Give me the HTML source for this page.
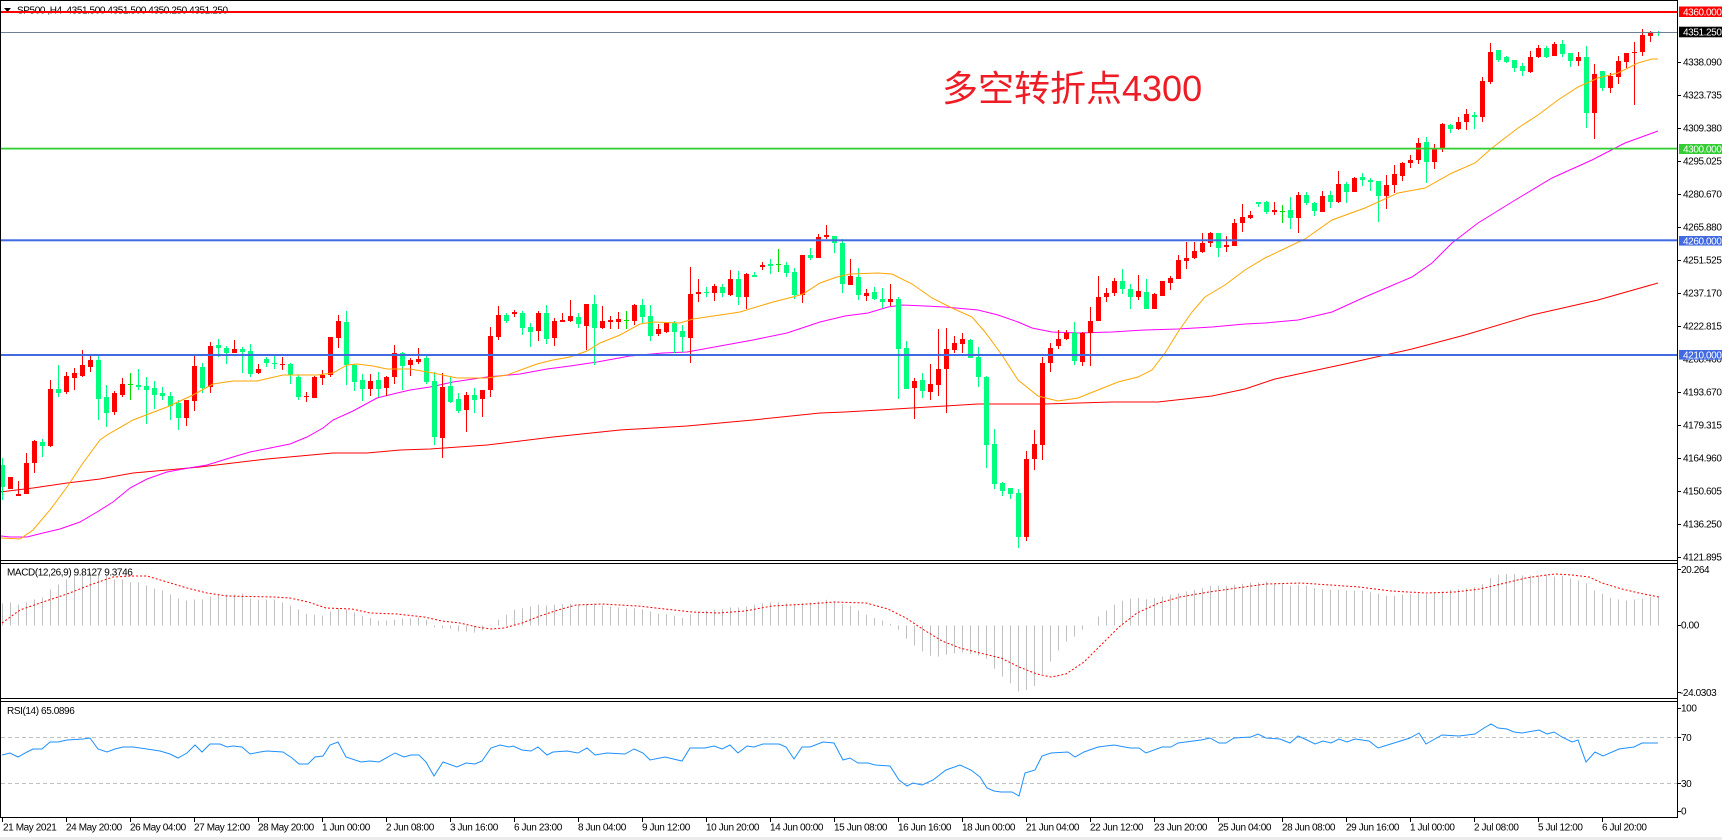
<!DOCTYPE html>
<html><head><meta charset="utf-8">
<style>
html,body{margin:0;padding:0;background:#fff;overflow:hidden;}
svg{display:block;}
text{font-family:"Liberation Sans",sans-serif;font-size:10px;letter-spacing:-0.4px;fill:#000;}
.w{fill:#fff;}
</style></head><body>
<svg width="1722" height="840" viewBox="0 0 1722 840" xmlns="http://www.w3.org/2000/svg">
<rect x="0" y="0" width="1722" height="840" fill="#fff"/>
<rect x="0" y="837" width="1722" height="3" fill="#ececec"/>

<!-- MA lines -->
<polyline fill="none" stroke="#FF0000" stroke-width="1" points="0,492 33,488 67,483 100,479 133,473 167,470 200,467 233,463 267,459 300,456 333,453 367,453 400,450 430,449 487,445 553,437 620,430 687,426 753,420 820,413 845,412 912,408 978,404 1045,404 1112,402 1158,402 1185,399 1212,396 1245,389 1275,379 1345,364 1412,349 1465,335 1532,315 1598,300 1658,283"/>
<polyline fill="none" stroke="#FF00FF" stroke-width="1" points="1,536 10,537 27,537 43,533 60,529 80,522 97,512 113,502 130,488 147,479 167,472 183,469 207,465 233,457 250,452 290,444 307,437 323,428 333,420 353,411 377,398 393,394 410,390 430,387 453,382 487,377 520,374 547,369 570,366 597,362 630,356 663,353 687,352 720,346 753,340 787,333 820,322 845,316 868,313 888,307 902,305 925,306 945,307 978,310 998,315 1018,322 1032,328 1052,332 1078,333 1112,332 1145,330 1178,329 1212,327 1245,324 1265,323 1298,320 1332,312 1365,297 1412,277 1432,263 1452,243 1478,223 1512,202 1552,178 1592,160 1625,143 1658,131"/>

<g id="candles">
<path id="gw" stroke="#00FF7F" stroke-width="1" fill="none"/>
<path id="gb" fill="#00FF7F"/>
<path id="rw" stroke="#FF0000" stroke-width="1" fill="none"/>
<path id="rb" fill="#FF0000"/>
<path id="dw" stroke="#00E000" stroke-width="1" fill="none"/>
<path id="db" fill="#00E000"/>
</g>

<polyline fill="none" stroke="#FFA500" stroke-width="1" points="1,538 20,539 33,530 50,510 67,487 83,463 100,440 107,435 133,420 167,407 193,395 213,384 233,381 257,381 283,375 317,375 333,373 347,365 357,364 373,366 387,369 410,369 433,373 457,378 487,378 507,375 537,364 553,360 570,357 587,351 600,343 620,335 640,324 653,322 680,323 693,319 720,315 740,312 753,308 773,302 793,297 803,294 820,283 837,277 850,274 878,273 892,274 912,284 932,298 952,308 972,317 985,332 1002,355 1018,380 1038,396 1058,401 1078,398 1098,390 1118,382 1138,377 1152,370 1165,353 1178,332 1192,312 1205,297 1225,285 1245,270 1265,258 1305,239 1332,220 1365,208 1398,193 1425,188 1452,173 1475,163 1492,148 1518,128 1538,115 1558,100 1578,87 1598,78 1618,73 1638,63 1652,59 1658,59"/>

<!-- header -->
<polygon points="4,8 11,8 7.5,12" fill="#000"/>
<text x="17" y="13.5">SP500 ,H4&#160; 4351.500 4351.500 4350.250 4351.250</text>

<!-- horizontal objects -->
<rect x="1" y="11" width="1676" height="2" fill="#FF0000"/>
<rect x="1" y="32" width="1676" height="1" fill="#708090"/>
<rect x="1" y="147.7" width="1676" height="1.8" fill="#32CD32"/>
<rect x="1" y="239.3" width="1676" height="2" fill="#4169E1"/>
<rect x="1" y="354" width="1676" height="2" fill="#4169E1"/>

<text x="942" y="101" style="font-family:'Liberation Sans','Noto Sans CJK SC',sans-serif;font-size:36px;letter-spacing:0;fill:#EE1C25;">多空转折点4300</text>

<!-- MACD -->
<path id="mh" stroke="#C0C0C0" stroke-width="1" fill="none"/>
<polyline fill="none" stroke="#FF0000" stroke-width="1" stroke-dasharray="2 2" points="2,623 20,610 40,603 67,594 90,585 113,577 130,576 147,576 167,582 187,588 207,593 227,596 273,597 290,598 308,602 326,608 352,609 370,613 397,614 424,617 442,621 460,623 477,627 491,629 504,628 522,623 540,616 558,610 576,605 602,604 638,606 665,609 692,612 719,613 745,611 772,606 808,604 835,602 866,603 888,609 906,618 924,630 942,641 960,648 980,653 1001,658 1019,667 1037,674 1051,677 1066,674 1084,662 1101,645 1119,627 1137,613 1159,603 1180,597 1209,592 1237,588 1266,584 1301,583 1330,585 1359,587 1391,591 1426,593 1455,592 1480,589 1501,584 1526,578 1539,576 1555,574 1572,575 1589,577 1602,583 1622,589 1639,593 1659,597"/>
<text x="7" y="575.5">MACD(12,26,9) 9.8127 9.3746</text>

<!-- RSI -->
<line x1="1" y1="737.5" x2="1677" y2="737.5" stroke="#C0C0C0" stroke-width="1" stroke-dasharray="4 3"/>
<line x1="1" y1="783.5" x2="1677" y2="783.5" stroke="#C0C0C0" stroke-width="1" stroke-dasharray="4 3"/>
<polyline fill="none" stroke="#1E90FF" stroke-width="1" points="2,755 10,753 18,757 27,752 33,749 42,749 50,742 58,742 67,740 83,739 90,738 98,749 107,752 115,749 123,747 133,747 147,749 160,751 170,754 178,758 187,753 195,745 202,752 210,744 220,744 227,747 233,746 242,747 250,754 260,752 267,751 283,752 292,758 299,764 308,764 315,757 323,756 330,745 338,742 346,757 361,762 370,761 379,762 395,753 404,757 411,755 419,755 426,762 434,776 443,762 457,767 466,763 475,764 482,761 491,748 500,745 509,747 513,746 522,750 531,751 538,747 547,755 553,752 567,751 578,753 587,748 595,755 607,753 625,754 634,749 643,753 650,760 665,757 682,761 690,748 705,748 714,746 722,749 730,745 738,753 747,746 754,747 763,744 779,744 786,747 794,759 802,747 810,747 823,742 834,743 843,760 850,758 858,763 868,763 875,765 890,766 899,780 907,786 913,783 922,785 933,780 946,770 960,765 971,770 980,777 987,788 994,791 1001,792 1012,792 1019,796 1025,773 1035,770 1042,756 1051,753 1068,752 1075,757 1084,752 1098,747 1114,745 1130,748 1139,748 1146,753 1162,747 1171,747 1178,743 1201,740 1210,738 1219,743 1226,743 1234,738 1251,737 1258,734 1266,738 1280,739 1290,743 1298,736 1307,740 1315,744 1323,741 1331,743 1339,739 1347,742 1355,739 1369,741 1378,748 1394,743 1410,738 1419,733 1426,744 1442,735 1459,736 1475,734 1484,728 1491,724 1498,728 1507,729 1514,732 1522,733 1539,730 1547,734 1554,732 1562,737 1572,742 1578,740 1586,762 1595,752 1603,756 1619,749 1634,747 1642,743 1658,743"/>
<text x="7" y="714">RSI(14) 65.0896</text>

<!-- panel borders -->
<g stroke="#000" stroke-width="1" fill="none">
<line x1="0" y1="0.5" x2="1678" y2="0.5"/>
<line x1="0.5" y1="0" x2="0.5" y2="818"/>
<line x1="1677.5" y1="0" x2="1677.5" y2="818"/>
<line x1="0" y1="560.5" x2="1678" y2="560.5"/>
<line x1="0" y1="563.5" x2="1678" y2="563.5"/>
<line x1="0" y1="698.5" x2="1678" y2="698.5"/>
<line x1="0" y1="701.5" x2="1678" y2="701.5"/>
<line x1="0" y1="817.5" x2="1678" y2="817.5"/>
</g>

<!-- price axis ticks -->
<g stroke="#000" stroke-width="1">
<line x1="1677" y1="62.5" x2="1681" y2="62.5"/><line x1="1677" y1="95.5" x2="1681" y2="95.5"/>
<line x1="1677" y1="128.5" x2="1681" y2="128.5"/><line x1="1677" y1="161.5" x2="1681" y2="161.5"/>
<line x1="1677" y1="194.5" x2="1681" y2="194.5"/><line x1="1677" y1="227.5" x2="1681" y2="227.5"/>
<line x1="1677" y1="260.5" x2="1681" y2="260.5"/><line x1="1677" y1="293.5" x2="1681" y2="293.5"/>
<line x1="1677" y1="326.5" x2="1681" y2="326.5"/><line x1="1677" y1="392.5" x2="1681" y2="392.5"/>
<line x1="1677" y1="425.5" x2="1681" y2="425.5"/><line x1="1677" y1="458.5" x2="1681" y2="458.5"/>
<line x1="1677" y1="491.5" x2="1681" y2="491.5"/><line x1="1677" y1="524.5" x2="1681" y2="524.5"/>
<line x1="1677" y1="557.5" x2="1681" y2="557.5"/>
<line x1="1677" y1="569.5" x2="1681" y2="569.5"/><line x1="1677" y1="625.5" x2="1681" y2="625.5"/>
<line x1="1677" y1="692.5" x2="1681" y2="692.5"/>
<line x1="1677" y1="708.5" x2="1681" y2="708.5"/><line x1="1677" y1="737.5" x2="1681" y2="737.5"/>
<line x1="1677" y1="783.5" x2="1681" y2="783.5"/><line x1="1677" y1="811.5" x2="1681" y2="811.5"/>
</g>

<!-- price labels -->
<text x="1683" y="65.5">4338.090</text>
<text x="1683" y="98.5">4323.735</text>
<text x="1683" y="131.5">4309.380</text>
<text x="1683" y="164.5">4295.025</text>
<text x="1683" y="197.5">4280.670</text>
<text x="1683" y="230.5">4265.880</text>
<text x="1683" y="263.5">4251.525</text>
<text x="1683" y="296.5">4237.170</text>
<text x="1683" y="329.5">4222.815</text>
<text x="1683" y="362.5">4208.460</text>
<text x="1683" y="395.5">4193.670</text>
<text x="1683" y="428.5">4179.315</text>
<text x="1683" y="461.5">4164.960</text>
<text x="1683" y="494.5">4150.605</text>
<text x="1683" y="527.5">4136.250</text>
<text x="1683" y="560.5">4121.895</text>

<rect x="1679" y="6.5" width="43" height="10.5" fill="#FF0000"/>
<text class="w" x="1683" y="15.3">4360.000</text>
<rect x="1679" y="26.7" width="43" height="10.6" fill="#000"/>
<text class="w" x="1683" y="35.5">4351.250</text>
<rect x="1679" y="144" width="43" height="10" fill="#32CD32"/>
<text class="w" x="1683" y="152.6">4300.000</text>
<rect x="1679" y="236" width="43" height="9.6" fill="#4169E1"/>
<text class="w" x="1683" y="244.4">4260.000</text>
<rect x="1679" y="350" width="43" height="9.6" fill="#4169E1"/>
<text class="w" x="1683" y="358.4">4210.000</text>

<text x="1681" y="572.8">20.264</text>
<text x="1681" y="628.5">0.00</text>
<text x="1680" y="696.2">-24.0303</text>
<text x="1681" y="711.5">100</text>
<text x="1681" y="741.2">70</text>
<text x="1681" y="786.8">30</text>
<text x="1681" y="814.5">0</text>

<!-- time axis -->
<g id="tt" stroke="#000" stroke-width="1">
<line x1="2.5" y1="818" x2="2.5" y2="822"/><line x1="66.5" y1="818" x2="66.5" y2="822"/><line x1="130.5" y1="818" x2="130.5" y2="822"/><line x1="194.5" y1="818" x2="194.5" y2="822"/><line x1="258.5" y1="818" x2="258.5" y2="822"/><line x1="322.5" y1="818" x2="322.5" y2="822"/><line x1="386.5" y1="818" x2="386.5" y2="822"/><line x1="450.5" y1="818" x2="450.5" y2="822"/><line x1="514.5" y1="818" x2="514.5" y2="822"/><line x1="578.5" y1="818" x2="578.5" y2="822"/><line x1="642.5" y1="818" x2="642.5" y2="822"/><line x1="706.5" y1="818" x2="706.5" y2="822"/><line x1="770.5" y1="818" x2="770.5" y2="822"/><line x1="834.5" y1="818" x2="834.5" y2="822"/><line x1="898.5" y1="818" x2="898.5" y2="822"/><line x1="962.5" y1="818" x2="962.5" y2="822"/><line x1="1026.5" y1="818" x2="1026.5" y2="822"/><line x1="1090.5" y1="818" x2="1090.5" y2="822"/><line x1="1154.5" y1="818" x2="1154.5" y2="822"/><line x1="1218.5" y1="818" x2="1218.5" y2="822"/><line x1="1282.5" y1="818" x2="1282.5" y2="822"/><line x1="1346.5" y1="818" x2="1346.5" y2="822"/><line x1="1410.5" y1="818" x2="1410.5" y2="822"/><line x1="1474.5" y1="818" x2="1474.5" y2="822"/><line x1="1538.5" y1="818" x2="1538.5" y2="822"/><line x1="1602.5" y1="818" x2="1602.5" y2="822"/>
</g>
<text x="3" y="830.6">21 May 2021</text>
<text x="66" y="830.6">24 May 20:00</text>
<text x="130" y="830.6">26 May 04:00</text>
<text x="194" y="830.6">27 May 12:00</text>
<text x="258" y="830.6">28 May 20:00</text>
<text x="322" y="830.6">1 Jun 00:00</text>
<text x="386" y="830.6">2 Jun 08:00</text>
<text x="450" y="830.6">3 Jun 16:00</text>
<text x="514" y="830.6">6 Jun 23:00</text>
<text x="578" y="830.6">8 Jun 04:00</text>
<text x="642" y="830.6">9 Jun 12:00</text>
<text x="706" y="830.6">10 Jun 20:00</text>
<text x="770" y="830.6">14 Jun 00:00</text>
<text x="834" y="830.6">15 Jun 08:00</text>
<text x="898" y="830.6">16 Jun 16:00</text>
<text x="962" y="830.6">18 Jun 00:00</text>
<text x="1026" y="830.6">21 Jun 04:00</text>
<text x="1090" y="830.6">22 Jun 12:00</text>
<text x="1154" y="830.6">23 Jun 20:00</text>
<text x="1218" y="830.6">25 Jun 04:00</text>
<text x="1282" y="830.6">28 Jun 08:00</text>
<text x="1346" y="830.6">29 Jun 16:00</text>
<text x="1410" y="830.6">1 Jul 00:00</text>
<text x="1474" y="830.6">2 Jul 08:00</text>
<text x="1538" y="830.6">5 Jul 12:00</text>
<text x="1602" y="830.6">6 Jul 20:00</text>
</svg>
<script>
(function(){
var C=[
[465,487,458,500,'g'],[477,489,477,489,'r'],[494,496,481,496,'r'],[463,494,453,494,'r'],[441,463,440,473,'r'],
[442,446,439,457,'g'],[389,446,380,447,'r'],[389,393,365,397,'g'],[376,392,372,394,'r'],[373,378,368,390,'r'],
[365,376,350,377,'r'],[360,367,356,372,'r'],[360,399,356,420,'g'],[397,413,385,427,'g'],[393,412,391,415,'r'],
[384,395,378,397,'r'],[384,385,373,400,'d'],[385,387,369,390,'g'],[386,390,377,424,'g'],[388,395,381,409,'g'],
[393,396,387,400,'g'],[396,406,392,420,'g'],[403,418,400,430,'g'],[400,418,400,426,'r'],[366,401,356,411,'r'],
[367,388,363,393,'g'],[346,387,342,393,'r'],[345,348,339,357,'g'],[348,353,346,364,'g'],[349,353,340,353,'r'],
[349,352,347,373,'g'],[351,374,344,377,'g'],[369,373,364,374,'r'],[359,363,357,367,'g'],[363,364,356,369,'g'],
[364,365,357,370,'r'],[364,375,363,384,'g'],[377,397,375,400,'g'],[396,397,392,402,'r'],[377,398,376,398,'r'],
[375,378,370,385,'r'],[337,375,337,377,'r'],[321,338,315,348,'r'],[322,365,311,385,'g'],[365,382,364,391,'g'],
[380,389,374,401,'g'],[381,389,374,396,'r'],[380,389,372,397,'g'],[377,388,376,396,'r'],[353,377,345,384,'r'],
[353,366,352,390,'g'],[360,365,358,376,'r'],[359,362,348,364,'r'],[358,382,355,384,'g'],[381,437,372,445,'g'],
[387,438,373,458,'r'],[386,402,377,403,'g'],[399,411,393,413,'g'],[395,410,392,432,'r'],[395,400,388,413,'g'],
[390,399,390,417,'r'],[336,390,327,397,'r'],[315,337,306,340,'r'],[315,321,313,323,'g'],[312,314,310,317,'r'],
[313,328,311,335,'g'],[327,332,323,347,'g'],[313,331,311,341,'r'],[313,339,305,344,'g'],[321,338,318,346,'r'],
[320,322,313,322,'r'],[316,321,300,322,'r'],[317,324,313,328,'g'],[304,326,304,350,'r'],[304,328,295,365,'g'],
[321,328,306,329,'r'],[320,322,316,329,'r'],[319,322,312,329,'r'],[320,321,311,329,'d'],[305,321,304,325,'r'],
[305,317,299,323,'g'],[316,336,305,341,'g'],[329,334,324,336,'r'],[323,332,322,333,'r'],[323,332,321,353,'g'],
[331,337,325,352,'g'],[294,338,267,363,'r'],[292,294,279,302,'r'],[292,293,287,297,'g'],[286,293,284,301,'r'],
[287,293,284,297,'g'],[279,295,270,296,'r'],[279,297,271,305,'g'],[274,297,273,309,'r'],[275,277,272,277,'g'],
[265,267,262,270,'r'],[264,266,259,274,'g'],[264,265,249,272,'d'],[265,273,262,277,'g'],[272,295,268,299,'g'],
[255,295,255,303,'r'],[255,258,248,260,'g'],[237,258,234,258,'r'],[235,237,225,239,'r'],[236,243,236,253,'g'],
[243,284,239,293,'g'],[276,285,259,285,'r'],[277,295,268,300,'g'],[293,296,289,301,'r'],[292,299,287,300,'g'],
[299,302,288,308,'g'],[299,302,284,306,'r'],[299,349,297,399,'g'],[348,389,341,389,'g'],[381,388,378,419,'r'],
[380,391,373,398,'g'],[384,392,364,400,'r'],[369,385,329,396,'r'],[349,369,328,413,'r'],[343,350,336,353,'r'],
[339,344,333,353,'r'],[340,358,339,358,'g'],[357,377,347,387,'g'],[377,445,376,468,'g'],[444,484,429,489,'g'],
[483,491,482,496,'g'],[488,494,488,499,'g'],[493,537,489,548,'g'],[459,537,451,541,'r'],[444,459,430,470,'r'],
[363,445,357,460,'r'],[348,363,343,372,'r'],[339,346,330,349,'r'],[333,339,330,340,'r'],[333,361,322,365,'g'],
[333,362,332,366,'r'],[321,333,307,366,'r'],[297,321,276,321,'r'],[293,297,288,302,'r'],[281,293,278,296,'r'],
[281,289,269,294,'g'],[289,297,284,309,'g'],[291,297,275,300,'r'],[292,309,279,309,'g'],[294,309,293,309,'r'],
[281,296,281,296,'r'],[278,283,276,290,'r'],[260,279,255,279,'r'],[258,261,242,269,'r'],[251,258,242,259,'r'],
[243,252,233,253,'r'],[233,243,232,247,'r'],[233,248,233,257,'g'],[245,247,236,252,'r'],[223,246,219,246,'r'],
[217,223,204,232,'r'],[215,218,211,219,'r'],[202,204,202,207,'g'],[202,212,201,214,'g'],[210,212,202,215,'r'],
[211,211,205,223,'d'],[210,218,197,229,'g'],[195,218,192,233,'r'],[195,203,192,205,'g'],[203,211,202,216,'g'],
[196,212,191,212,'r'],[195,202,191,208,'g'],[184,202,171,203,'r'],[184,192,182,203,'g'],[178,192,177,192,'r'],
[177,180,173,186,'g'],[180,182,178,191,'g'],[181,196,181,222,'g'],[185,196,175,209,'r'],[174,185,165,193,'r'],
[163,176,162,181,'r'],[160,163,155,168,'r'],[143,160,138,164,'r'],[142,162,137,183,'g'],[149,162,144,169,'r'],
[124,148,123,152,'r'],[125,129,124,133,'g'],[122,129,117,130,'r'],[114,122,109,130,'r'],[115,117,112,129,'g'],
[81,117,77,122,'r'],[52,82,43,84,'r'],[50,60,50,62,'g'],[57,62,56,63,'g'],[60,68,60,72,'g'],
[66,71,63,76,'g'],[57,72,51,73,'r'],[48,57,45,58,'r'],[48,57,46,58,'g'],[44,56,42,56,'r'],
[44,54,40,57,'g'],[53,61,53,67,'g'],[57,61,52,66,'r'],[57,113,46,128,'g'],[74,113,64,139,'r'],
[71,88,71,91,'g'],[76,88,73,93,'r'],[61,77,56,84,'r'],[53,62,53,68,'r'],[52,53,42,105,'r'],
[35,52,29,56,'r'],[32,36,31,42,'r'],[32,33,31,36,'g']
];
var P={r:['',''],g:['',''],d:['','']};
for(var i=0;i<C.length;i++){
  var c=C[i],x=8*i,cx=x+2.5,t=c[0],b=c[1];
  if(b-t<1)b=t+1;
  P[c[4]][0]+='M'+x+' '+t+'H'+(x+5)+'V'+b+'H'+x+'Z';
  P[c[4]][1]+='M'+cx+' '+c[2]+'V'+c[3];
}
document.getElementById('rb').setAttribute('d',P.r[0]);
document.getElementById('rw').setAttribute('d',P.r[1]);
document.getElementById('gb').setAttribute('d',P.g[0]);
document.getElementById('gw').setAttribute('d',P.g[1]);
document.getElementById('db').setAttribute('d',P.d[0]);
document.getElementById('dw').setAttribute('d',P.d[1]);
var M=[22,23,21,23,26,28,36,41,46,52,53,53,52,50,46,46,43,43,40,37,35,31,27,25,26,26,29,31,31,31,32,27,26,26,26,23,20,16,
11.7,10.7,9.7,14,17.3,16.3,13,9.7,7.3,4.7,5,5.7,6.7,7.3,8.3,5.7,-1.7,-2.7,-3.3,-6,-6,-7,-5,0.7,5.7,10.7,15.7,17.3,19,20.7,
20,20.7,21.3,21.7,20.7,21.3,21.7,20,19,18,17.3,17.3,16.3,14,11.7,11.3,9.7,7.3,11.3,13,14.7,15.7,16.3,18,18,19,20.7,22.3,23,23,
22.3,21.3,22.3,23,24,25.7,24,21.3,19.7,15,10.7,7.3,5,1.7,-4.3,-13.3,-20,-26,-30.3,-31,-29.3,-27.7,-27,-28.3,-30.3,-33.3,
-43.3,-51,-57.7,-66,-64.3,-60.3,-48.3,-36,-25,-16,-11,-4.3,-0.3,9,14.7,20.7,24.7,26.7,27.3,26.3,27.3,29,30.7,32.3,
34,35.7,37.3,39.7,39.7,39.7,40.7,41.7,43,43,44,42.3,41.7,39.7,40.7,39.7,37.3,36.3,35.7,35.7,34.7,34.7,34.7,33.3,31.7,29.7,29.7,
30.7,31.3,32.3,31.3,32.3,34,35.7,36.3,37.3,38.3,41.3,47.3,50.7,51.3,51.3,50,50,50,51,49,50,46.7,45,42.3,35,31.7,27.7,26,25,26,26.7,28.3,29.3];
var d='';
for(var j=0;j<M.length;j++){var cx2=8*j+2.5;d+='M'+cx2+' 625.5V'+(625.5-M[j]).toFixed(1);}
document.getElementById('mh').setAttribute('d',d);
})();
</script>
</body></html>
